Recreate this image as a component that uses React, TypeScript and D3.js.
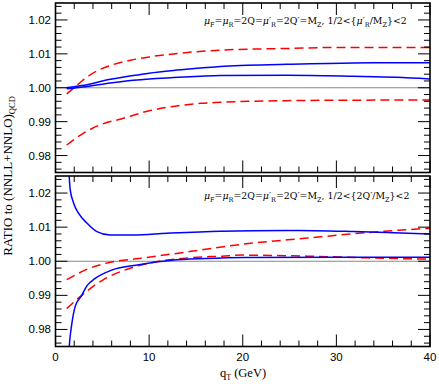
import * as d3 from "d3";

// q_T grid and ratios
const topRedUpX = [1.2, 2, 3, 4, 5, 6, 8, 10, 13, 17.6, 25, 30, 40];
const topRedUpY = [0.9982, 1.0, 1.0024, 1.0043, 1.0057, 1.0067, 1.0081, 1.0091, 1.0101, 1.0111, 1.0116, 1.0119, 1.0119];
const topRedLoX = [1.2, 3, 5, 7, 10, 12.6, 15.5, 17.6, 24.7, 30, 40];
const topRedLoY = [0.9831, 0.9866, 0.9893, 0.9908, 0.9932, 0.9945, 0.9954, 0.9957, 0.9962, 0.9963, 0.9964];
const topBlueUpX = [1.2, 2, 3.35, 5, 8.3, 10, 12.6, 15.5, 17.6, 24.7, 31.8, 40];
const topBlueUpY = [1.0, 1.0003, 1.0009, 1.002, 1.0036, 1.0043, 1.0051, 1.0058, 1.0063, 1.0069, 1.0073, 1.0074];
const topBlueLoX = [1.2, 3.35, 5.84, 8.3, 10, 12.6, 15.5, 17.6, 24.7, 31.8, 36.4, 40];
const topBlueLoY = [0.9997, 1.0004, 1.0014, 1.0022, 1.0026, 1.003, 1.0034, 1.0036, 1.0037, 1.0034, 1.0031, 1.0026];

const botRedUpX = [1.2, 3.5, 6, 8.9, 12.4, 16, 20, 26.9, 33.3, 40];
const botRedUpY = [0.9946, 0.9978, 0.9998, 1.0008, 1.0021, 1.0035, 1.005, 1.0068, 1.0084, 1.0097];
const botRedLoX = [1.2, 2.8, 5.3, 7.8, 10.65, 14.2, 17.8, 20, 26.9, 33.3, 40];
const botRedLoY = [0.9861, 0.99, 0.9949, 0.9978, 0.9998, 1.001, 1.0015, 1.0018, 1.0015, 1.001, 1.0006];
const botBlueUpX = [1.4, 1.57, 1.93, 2.46, 3.35, 4.42, 5.84, 8.33, 11.9, 17.6, 24.7, 29.3, 31.8, 35.4, 40];
const botBlueUpY = [1.028, 1.021, 1.0171, 1.0141, 1.0112, 1.0087, 1.0077, 1.0077, 1.0082, 1.0088, 1.009, 1.0089, 1.0087, 1.0084, 1.008];
const botBlueLoX = [1.4, 1.47, 1.75, 2.1, 2.8, 3.35, 4.2, 6, 8.9, 12.4, 16, 20.3, 30, 40];
const botBlueLoY = [0.972, 0.9751, 0.9818, 0.9867, 0.99, 0.9928, 0.9949, 0.9974, 0.999, 1.0003, 1.0008, 1.0011, 1.0012, 1.0012];

const yTicks = [0.98, 0.99, 1.0, 1.01, 1.02];
const xTicks = [0, 10, 20, 30, 40];

const W = 439;
const H = 384;
const x = d3.scaleLinear().domain([0, 40]).range([55.5, 430]);

const panels = [
  {
    id: "top",
    y: d3.scaleLinear().domain([0.975, 1.025]).range([172.5, 3]),
    curves: [
      { xs: topRedUpX, ys: topRedUpY, color: "#ff0000", dash: "9,5" },
      { xs: topRedLoX, ys: topRedLoY, color: "#ff0000", dash: "9,5" },
      { xs: topBlueUpX, ys: topBlueUpY, color: "#0000ff", dash: null },
      { xs: topBlueLoX, ys: topBlueLoY, color: "#0000ff", dash: null },
    ],
    ratio: "R",
    labelY: 24,
  },
  {
    id: "bot",
    y: d3.scaleLinear().domain([0.975, 1.025]).range([346.5, 176]),
    curves: [
      { xs: botRedUpX, ys: botRedUpY, color: "#ff0000", dash: "9,5" },
      { xs: botRedLoX, ys: botRedLoY, color: "#ff0000", dash: "9,5" },
      { xs: botBlueUpX, ys: botBlueUpY, color: "#0000ff", dash: null },
      { xs: botBlueLoX, ys: botBlueLoY, color: "#0000ff", dash: null },
    ],
    ratio: "Q",
    labelY: 199,
  },
];

const serif = "'DejaVu Serif', 'Liberation Serif', serif";
const serif2 = "'Liberation Serif', serif";
const sans = "'Liberation Sans', Arial, sans-serif";

function Sub({ t }: { t: string }) {
  return (
    <tspan baselineShift="-2.5" fontSize={6.5}>
      {t}
    </tspan>
  );
}

function Note({ yPos, last }: { yPos: number; last: string }) {
  return (
    <text x={204} y={yPos} fontFamily={serif} fontSize={9.4} fill="#000">
      <tspan fontStyle="italic">μ</tspan>
      <Sub t="F" />
      <tspan>=</tspan>
      <tspan fontStyle="italic">μ</tspan>
      <Sub t="R" />
      <tspan>=2Q=</tspan>
      <tspan fontStyle="italic">μ′</tspan>
      <Sub t="R" />
      <tspan>=2Q′=M</tspan>
      <Sub t="Z" />
      <tspan>,  1/2&lt;{"{"}</tspan>
      {last === "R" ? (
        <>
          <tspan fontStyle="italic">μ′</tspan>
          <Sub t="R" />
        </>
      ) : (
        <tspan>2Q′</tspan>
      )}
      <tspan>/M</tspan>
      <Sub t="Z" />
      <tspan>{"}"}&lt;2</tspan>
    </text>
  );
}

export default function App() {
  const minorY = d3.range(0.976, 1.025, 0.002);
  const minorX = d3.range(0, 40.01, 2);
  const [x0, x1] = x.range();

  return (
    <svg width={W} height={H} style={{ position: "absolute", left: 0, top: 0, background: "#fff" }}>
      <defs>
        {panels.map((p) => (
          <clipPath id={`clip-${p.id}`} key={p.id}>
            <rect x={x0} y={p.y.range()[1]} width={x1 - x0} height={p.y.range()[0] - p.y.range()[1]} />
          </clipPath>
        ))}
      </defs>
      {panels.map((p) => {
        const [yb, yt] = p.y.range();
        const line = d3
          .line<[number, number]>()
          .x((d) => x(d[0]))
          .y((d) => p.y(d[1]))
          .curve(d3.curveMonotoneX);
        return (
          <g key={p.id}>
            <line x1={x0} x2={x1} y1={p.y(1)} y2={p.y(1)} stroke="#888" strokeWidth={1} />
            <g clipPath={`url(#clip-${p.id})`}>
              {p.curves.map((c, i) => (
                <path
                  key={i}
                  d={line(c.xs.map((v, j) => [v, c.ys[j]] as [number, number])) || ""}
                  fill="none"
                  stroke={c.color}
                  strokeWidth={1.5}
                  strokeDasharray={c.dash || undefined}
                />
              ))}
            </g>
            {/* y ticks both sides */}
            {minorY.map((v, i) => {
              const major = yTicks.some((t) => Math.abs(t - v) < 1e-6);
              const len = major ? 12 : 6;
              return (
                <g key={`y${i}`}>
                  <line x1={x0} x2={x0 + len} y1={p.y(v)} y2={p.y(v)} stroke="#000" strokeWidth={1} />
                  <line x1={x1} x2={x1 - len} y1={p.y(v)} y2={p.y(v)} stroke="#000" strokeWidth={1} />
                </g>
              );
            })}
            {minorX.map((v, i) => {
              const major = xTicks.includes(v);
              const len = major ? 12 : 6;
              return (
                <g key={`x${i}`}>
                  <line x1={x(v)} x2={x(v)} y1={yb} y2={yb - len} stroke="#000" strokeWidth={1} />
                  <line x1={x(v)} x2={x(v)} y1={yt} y2={yt + len} stroke="#000" strokeWidth={1} />
                </g>
              );
            })}
            <rect x={x0} y={yt} width={x1 - x0} height={yb - yt} fill="none" stroke="#000" strokeWidth={1.6} />
            {yTicks.map((t) => (
              <text key={t} x={51} y={p.y(t) + 4} textAnchor="end" fontFamily={sans} fontSize={11.5} fill="#000">
                {t.toFixed(2)}
              </text>
            ))}
            <Note yPos={p.labelY} last={p.ratio} />
          </g>
        );
      })}
      {xTicks.map((t) => (
        <text key={t} x={x(t)} y={361} textAnchor="middle" fontFamily={sans} fontSize={11.5} fill="#000">
          {t}
        </text>
      ))}
      <text x={243} y={377} textAnchor="middle" fontFamily={serif2} fontSize={12.5} fill="#000">
        q<tspan baselineShift="-3" fontSize={8}>T</tspan> (GeV)
      </text>
      <text transform="translate(12,176) rotate(-90)" textAnchor="middle" fontFamily={serif2} fontSize={13} fill="#000">
        RATIO to (NNLL+NNLO)<tspan baselineShift="-3" fontSize={8.5}>QCD</tspan>
      </text>
    </svg>
  );
}
